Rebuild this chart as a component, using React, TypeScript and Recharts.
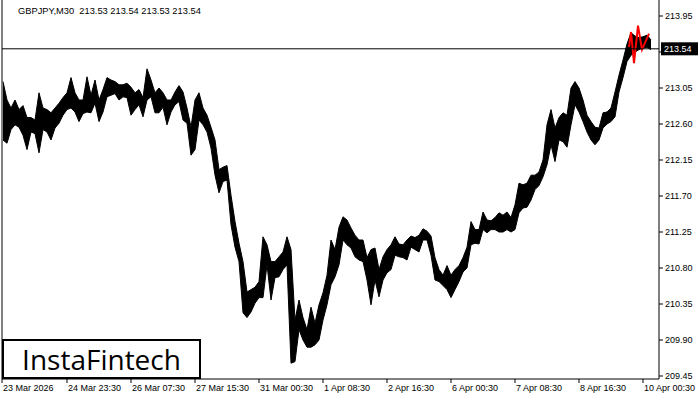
import { ComposedChart, Area, Line, XAxis, YAxis, ReferenceLine } from 'recharts'

// GBPJPY M30, each point groups 4 bars (2 hours): high / low of the group
const highs = [
  213.13, 212.9, 212.8, 212.9, 212.78, 212.83, 212.68, 212.68, 212.65, 212.99,
  212.8, 212.78, 212.74, 212.8, 212.86, 212.93, 212.99, 213.18, 212.99, 212.9,
  212.9, 213.19, 212.96, 213.15, 212.9, 213.03, 213.18, 213.15, 213.13, 213.09,
  213.09, 213.11, 213.06, 212.99, 213.03, 212.93, 213.29, 213.15, 212.99, 213.05,
  212.99, 212.9, 212.9, 213.0, 213.08, 213.0, 212.8, 212.56, 212.9, 212.99,
  212.8, 212.71, 212.56, 212.4, 212.03, 212.06, 212.08, 211.71, 211.38, 211.11,
  210.88, 210.5, 210.53, 210.56, 210.63, 211.19, 211.09, 210.88, 210.88, 210.94,
  211.0, 211.19, 211.03, 210.15, 210.4, 210.18, 210.03, 210.31, 210.11, 210.34,
  210.49, 210.71, 211.15, 211.03, 211.31, 211.44, 211.4, 211.3, 211.21, 211.15,
  211.15, 210.93, 211.03, 211.05, 210.78, 210.94, 211.03, 211.09, 211.19, 211.1,
  211.09, 211.15, 211.2, 211.18, 211.21, 211.29, 211.26, 211.2, 210.93, 210.78,
  210.71, 210.83, 210.71, 210.78, 210.83, 210.93, 211.06, 211.38, 211.28, 211.28,
  211.5, 211.4, 211.39, 211.43, 211.49, 211.46, 211.5, 211.43, 211.59, 211.86,
  211.84, 211.86, 211.96, 211.96, 212.0, 212.15, 212.59, 212.78, 212.55, 212.68,
  212.74, 212.71, 213.05, 213.13, 213.05, 212.9, 212.71, 212.63, 212.56, 212.55,
  212.74, 212.75, 212.8, 213.0, 213.21, 213.4, 213.6, 213.74, 213.7, 213.68,
  213.69, 213.71, 213.65,
]
const lows = [
  212.4, 212.36, 212.53, 212.59, 212.56, 212.46, 212.28, 212.5, 212.48, 212.24,
  212.53, 212.5, 212.4, 212.55, 212.61, 212.71, 212.78, 212.8, 212.75, 212.63,
  212.73, 212.75, 212.74, 212.86, 212.63, 212.75, 212.94, 212.96, 212.98, 212.9,
  212.94, 212.93, 212.71, 212.78, 212.84, 212.69, 212.9, 212.94, 212.74, 212.74,
  212.81, 212.59, 212.75, 212.84, 212.88, 212.65, 212.61, 212.21, 212.28, 212.65,
  212.59, 212.5, 212.3, 211.96, 211.74, 211.88, 211.9, 211.34, 211.06, 210.88,
  210.24, 210.18, 210.25, 210.36, 210.43, 210.43, 210.84, 210.4, 210.68, 210.69,
  210.78, 210.84, 209.61, 209.63, 210.03, 209.9, 209.81, 209.81, 209.84, 209.9,
  210.15, 210.34, 210.59, 210.69, 210.84, 211.15, 211.09, 211.05, 210.94, 210.9,
  210.88, 210.65, 210.34, 210.65, 210.44, 210.65, 210.74, 210.78, 210.96, 210.94,
  210.93, 210.9, 211.06, 211.03, 211.0, 211.15, 211.15, 210.96, 210.65, 210.63,
  210.58, 210.53, 210.43, 210.53, 210.63, 210.75, 210.8, 211.09, 211.11, 211.1,
  211.28, 211.24, 211.28, 211.28, 211.25, 211.25, 211.28, 211.25, 211.28, 211.49,
  211.55, 211.56, 211.65, 211.78, 211.83, 211.94, 212.09, 212.34, 212.13, 212.4,
  212.38, 212.31, 212.59, 212.84, 212.75, 212.63, 212.5, 212.4, 212.34, 212.4,
  212.55, 212.6, 212.63, 212.69, 213.0, 213.18, 213.38, 213.46, 213.5, 213.53,
  213.55, 213.56, 213.53,
]
const BARS_PER_POINT = 4
const FIRST_BAR = 1
const TOTAL_BARS = 657

// red zigzag pattern at the end (bar index / price)
const patternBars = [627, 629, 632, 636, 640, 647]
const patternPrices = [213.56, 213.75, 213.36, 213.83, 213.53, 213.73]

const timeTicks = [0, 65, 129, 193, 257, 321, 385, 449, 513, 577, 641]
const timeLabels = [
  '23 Mar 2026', '24 Mar 23:30', '26 Mar 07:30', '27 Mar 15:30', '31 Mar 00:30',
  '1 Apr 08:30', '2 Apr 16:30', '6 Apr 00:30', '7 Apr 08:30', '8 Apr 16:30', '10 Apr 00:30',
]
const priceTicks = [209.45, 209.9, 210.35, 210.8, 211.25, 211.7, 212.15, 212.6, 213.05, 213.5, 213.95]
const priceMin = 209.4125
const priceMax = 214.15
const lastPrice = 213.54
const header = 'GBPJPY,M30  213.53 213.54 213.53 213.54'

const FONT = '"Liberation Sans", Arial, sans-serif'

const bars = highs.map((h, i) => ({ t: FIRST_BAR + i * BARS_PER_POINT, range: [lows[i], h] }))
const pattern = patternBars.map((t, i) => ({ t, p: patternPrices[i] }))

function TimeTick(props: any) {
  const { x, y, payload } = props
  const label = timeLabels[timeTicks.indexOf(payload.value)]
  return (
    <text x={x + 1} y={y} dy="0.71em" fill="#000" fontSize={9} fontFamily={FONT} textAnchor="start">
      {label}
    </text>
  )
}

function PriceTick(props: any) {
  const { x, y, payload } = props
  // the label under the current price tag is hidden by it
  if (Math.abs(payload.value - lastPrice) < 0.1) return <g />
  return (
    <text x={x} y={y} dy="0.355em" fill="#000" fontSize={9} fontFamily={FONT} textAnchor="start">
      {Number(payload.value).toFixed(2)}
    </text>
  )
}

function PriceTag(props: any) {
  const { viewBox } = props
  const x = viewBox.x + viewBox.width + 2
  const y = viewBox.y
  return (
    <g>
      <rect x={x} y={y - 6.5} width={37} height={13} fill="#000" />
      <text x={x + 3} y={y} dy="0.355em" fill="#fff" fontSize={9} fontFamily={FONT}>
        {lastPrice.toFixed(2)}
      </text>
    </g>
  )
}

export default function App() {
  return (
    <div style={{ position: 'absolute', left: 0, top: 0, width: 700, height: 400, background: '#fff' }}>
      <ComposedChart width={700} height={400} data={bars} margin={{ top: 0, right: 0, bottom: 0, left: 2 }}>
        <XAxis
          type="number"
          dataKey="t"
          domain={[0, TOTAL_BARS]}
          allowDataOverflow
          ticks={timeTicks}
          interval={0}
          tick={<TimeTick />}
          tickSize={4}
          tickMargin={2}
          height={21}
          axisLine={{ stroke: '#000' }}
          tickLine={{ stroke: '#000' }}
        />
        <YAxis
          orientation="right"
          type="number"
          domain={[priceMin, priceMax]}
          allowDataOverflow
          ticks={priceTicks}
          interval={0}
          tick={<PriceTick />}
          tickSize={4}
          tickMargin={2}
          width={41}
          axisLine={{ stroke: '#000' }}
          tickLine={{ stroke: '#000' }}
        />
        <ReferenceLine x={0} stroke="#000" />
        <Area
          type="linear"
          dataKey="range"
          stroke="#000"
          strokeWidth={1}
          fill="#000"
          fillOpacity={1}
          dot={false}
          activeDot={false}
          isAnimationActive={false}
        />
        <Line
          data={pattern}
          type="linear"
          dataKey="p"
          stroke="#ff0000"
          strokeWidth={2}
          dot={false}
          activeDot={false}
          isAnimationActive={false}
        />
        <ReferenceLine y={lastPrice} stroke="#000" label={<PriceTag />} />
      </ComposedChart>
      <div
        style={{
          position: 'absolute',
          left: 18,
          top: 6,
          fontFamily: FONT,
          fontSize: 9.3,
          color: '#000',
          whiteSpace: 'pre',
          lineHeight: '10px',
        }}
      >
        {header}
      </div>
      <div
        style={{
          position: 'absolute',
          left: 2,
          top: 339,
          width: 195,
          height: 36,
          border: '2px solid #000',
          background: '#fff',
          display: 'flex',
          alignItems: 'center',
          justifyContent: 'center',
          fontFamily: '"Open Sans", sans-serif',
          fontSize: 28,
          color: '#000',
        }}
      >
        InstaFintech
      </div>
    </div>
  )
}
